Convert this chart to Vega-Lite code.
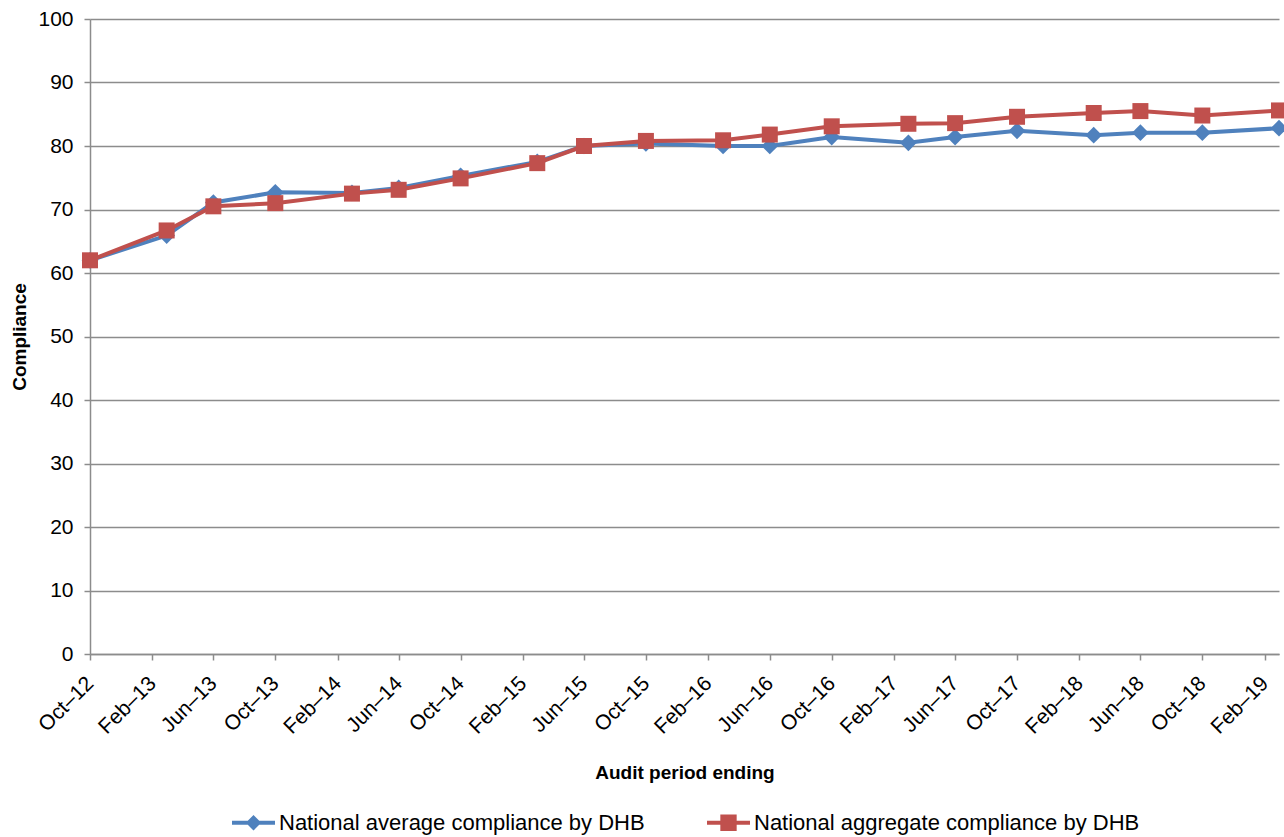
{
  "$schema": "https://vega.github.io/schema/vega-lite/v6.json",
  "autosize": {"type": "none"},
  "width": 1189,
  "height": 635,
  "padding": {"left": 90, "top": 19, "right": 5, "bottom": 183},
  "background": "white",
  "config": {
    "font": "Liberation Sans",
    "view": {"stroke": null}
  },
  "data": {
    "values": [
      {"date": "2012-10-01", "series": "National average compliance by DHB", "value": 62.0},
      {"date": "2013-03-01", "series": "National average compliance by DHB", "value": 65.9},
      {"date": "2013-06-01", "series": "National average compliance by DHB", "value": 71.1},
      {"date": "2013-10-01", "series": "National average compliance by DHB", "value": 72.7},
      {"date": "2014-03-01", "series": "National average compliance by DHB", "value": 72.6},
      {"date": "2014-06-01", "series": "National average compliance by DHB", "value": 73.4},
      {"date": "2014-10-01", "series": "National average compliance by DHB", "value": 75.3},
      {"date": "2015-03-01", "series": "National average compliance by DHB", "value": 77.5},
      {"date": "2015-06-01", "series": "National average compliance by DHB", "value": 80.0},
      {"date": "2015-10-01", "series": "National average compliance by DHB", "value": 80.4},
      {"date": "2016-03-01", "series": "National average compliance by DHB", "value": 80.0},
      {"date": "2016-06-01", "series": "National average compliance by DHB", "value": 80.0},
      {"date": "2016-10-01", "series": "National average compliance by DHB", "value": 81.4},
      {"date": "2017-03-01", "series": "National average compliance by DHB", "value": 80.5},
      {"date": "2017-06-01", "series": "National average compliance by DHB", "value": 81.4},
      {"date": "2017-10-01", "series": "National average compliance by DHB", "value": 82.4},
      {"date": "2018-03-01", "series": "National average compliance by DHB", "value": 81.7},
      {"date": "2018-06-01", "series": "National average compliance by DHB", "value": 82.1},
      {"date": "2018-10-01", "series": "National average compliance by DHB", "value": 82.1},
      {"date": "2019-03-01", "series": "National average compliance by DHB", "value": 82.8},
      {"date": "2012-10-01", "series": "National aggregate compliance by DHB", "value": 62.0},
      {"date": "2013-03-01", "series": "National aggregate compliance by DHB", "value": 66.7},
      {"date": "2013-06-01", "series": "National aggregate compliance by DHB", "value": 70.5},
      {"date": "2013-10-01", "series": "National aggregate compliance by DHB", "value": 71.0},
      {"date": "2014-03-01", "series": "National aggregate compliance by DHB", "value": 72.5},
      {"date": "2014-06-01", "series": "National aggregate compliance by DHB", "value": 73.1},
      {"date": "2014-10-01", "series": "National aggregate compliance by DHB", "value": 74.9},
      {"date": "2015-03-01", "series": "National aggregate compliance by DHB", "value": 77.3},
      {"date": "2015-06-01", "series": "National aggregate compliance by DHB", "value": 80.0},
      {"date": "2015-10-01", "series": "National aggregate compliance by DHB", "value": 80.8},
      {"date": "2016-03-01", "series": "National aggregate compliance by DHB", "value": 80.9},
      {"date": "2016-06-01", "series": "National aggregate compliance by DHB", "value": 81.8},
      {"date": "2016-10-01", "series": "National aggregate compliance by DHB", "value": 83.1},
      {"date": "2017-03-01", "series": "National aggregate compliance by DHB", "value": 83.5},
      {"date": "2017-06-01", "series": "National aggregate compliance by DHB", "value": 83.6},
      {"date": "2017-10-01", "series": "National aggregate compliance by DHB", "value": 84.6},
      {"date": "2018-03-01", "series": "National aggregate compliance by DHB", "value": 85.2},
      {"date": "2018-06-01", "series": "National aggregate compliance by DHB", "value": 85.5},
      {"date": "2018-10-01", "series": "National aggregate compliance by DHB", "value": 84.8},
      {"date": "2019-03-01", "series": "National aggregate compliance by DHB", "value": 85.6}
    ]
  },
  "encoding": {
    "x": {
      "field": "date",
      "type": "temporal",
      "scale": {
        "type": "utc",
        "domain": [
          {"year": 2012, "month": 10, "date": 1, "utc": true},
          {"year": 2019, "month": 3, "date": 1, "utc": true}
        ]
      },
      "axis": {
        "title": "Audit period ending",
        "titleFont": "Liberation Sans",
        "titleFontSize": 19,
        "titleFontWeight": "bold",
        "titleColor": "#000000",
        "titlePadding": 26,
        "labelExpr": "utcFormat(datum.value, '%b–%y')",
        "values": [
          {"year": 2012, "month": 10, "date": 1, "utc": true},
          {"year": 2013, "month": 2, "date": 1, "utc": true},
          {"year": 2013, "month": 6, "date": 1, "utc": true},
          {"year": 2013, "month": 10, "date": 1, "utc": true},
          {"year": 2014, "month": 2, "date": 1, "utc": true},
          {"year": 2014, "month": 6, "date": 1, "utc": true},
          {"year": 2014, "month": 10, "date": 1, "utc": true},
          {"year": 2015, "month": 2, "date": 1, "utc": true},
          {"year": 2015, "month": 6, "date": 1, "utc": true},
          {"year": 2015, "month": 10, "date": 1, "utc": true},
          {"year": 2016, "month": 2, "date": 1, "utc": true},
          {"year": 2016, "month": 6, "date": 1, "utc": true},
          {"year": 2016, "month": 10, "date": 1, "utc": true},
          {"year": 2017, "month": 2, "date": 1, "utc": true},
          {"year": 2017, "month": 6, "date": 1, "utc": true},
          {"year": 2017, "month": 10, "date": 1, "utc": true},
          {"year": 2018, "month": 2, "date": 1, "utc": true},
          {"year": 2018, "month": 6, "date": 1, "utc": true},
          {"year": 2018, "month": 10, "date": 1, "utc": true},
          {"year": 2019, "month": 2, "date": 1, "utc": true}
        ],
        "labelAngle": -45,
        "labelAlign": "right",
        "labelBaseline": "middle",
        "labelFontSize": 21,
        "labelColor": "#000000",
        "labelPadding": 20,
        "labelOverlap": false,
        "labelFlush": false,
        "grid": false,
        "domainColor": "#8c8c8c",
        "domainWidth": 1.5,
        "tickColor": "#8c8c8c",
        "tickWidth": 1.5,
        "tickSize": 6
      }
    },
    "y": {
      "field": "value",
      "type": "quantitative",
      "scale": {"domain": [0, 100], "nice": false, "zero": true},
      "axis": {
        "title": "Compliance",
        "titleFont": "Liberation Sans",
        "titleFontSize": 19,
        "titleFontWeight": "bold",
        "titleColor": "#000000",
        "titlePadding": 8,
        "values": [0, 10, 20, 30, 40, 50, 60, 70, 80, 90, 100],
        "labelFontSize": 21,
        "labelColor": "#000000",
        "labelPadding": 11,
        "grid": true,
        "gridColor": "#8c8c8c",
        "gridWidth": 1.5,
        "domainColor": "#8c8c8c",
        "domainWidth": 1.5,
        "tickColor": "#8c8c8c",
        "tickWidth": 1.5,
        "tickSize": 6
      }
    },
    "color": {
      "field": "series",
      "type": "nominal",
      "scale": {
        "domain": ["National average compliance by DHB", "National aggregate compliance by DHB"],
        "range": ["#4F81BD", "#C0504D"]
      },
      "legend": {
        "title": null,
        "orient": "none",
        "legendX": 142,
        "legendY": 782,
        "direction": "horizontal",
        "padding": 0,
        "columnPadding": 62,
        "labelFont": "Liberation Sans",
        "labelFontSize": 22,
        "labelColor": "#000000",
        "labelOffset": 4,
        "labelLimit": 600,
        "symbolSize": 1849,
        "symbolStrokeWidth": 0,
        "symbolOpacity": 1,
        "encode": {
          "symbols": {
            "update": {
              "shape": [
                {"test": "datum.value === 'National average compliance by DHB'", "value": "M-1,-0.09L1,-0.09L1,0.09L-1,0.09Z M0,-0.36L0.36,0L0,0.36L-0.36,0Z"},
                {"value": "M-1,-0.09L1,-0.09L1,0.09L-1,0.09Z M-0.38,-0.38L0.38,-0.38L0.38,0.38L-0.38,0.38Z"}
              ],
              "fill": [
                {"test": "datum.value === 'National average compliance by DHB'", "value": "#4F81BD"},
                {"value": "#C0504D"}
              ],
              "stroke": {"value": "transparent"},
              "strokeWidth": {"value": 0},
              "size": {"value": 1849},
              "opacity": {"value": 1}
            }
          }
        }
      }
    }
  },
  "layer": [
    {
      "transform": [{"filter": "datum.series === 'National average compliance by DHB'"}],
      "mark": {"type": "line", "strokeWidth": 4}
    },
    {
      "transform": [{"filter": "datum.series === 'National average compliance by DHB'"}],
      "mark": {"type": "point", "shape": "diamond", "filled": true, "size": 280, "opacity": 1}
    },
    {
      "transform": [{"filter": "datum.series === 'National aggregate compliance by DHB'"}],
      "mark": {"type": "line", "strokeWidth": 4}
    },
    {
      "transform": [{"filter": "datum.series === 'National aggregate compliance by DHB'"}],
      "mark": {"type": "point", "shape": "square", "filled": true, "size": 256, "opacity": 1}
    }
  ]
}
